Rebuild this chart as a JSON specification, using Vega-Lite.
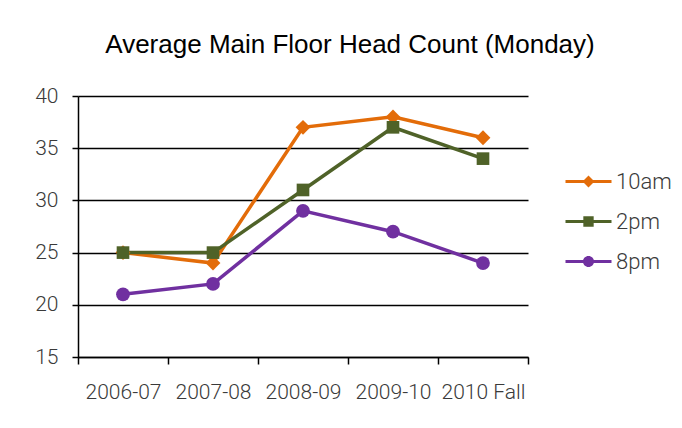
{
  "$schema": "https://vega.github.io/schema/vega-lite/v6.json",
  "autosize": "none",
  "width": 450,
  "height": 261,
  "padding": {"left": 78, "top": 96, "right": 154, "bottom": 71},
  "background": "white",
  "title": {
    "text": "Average Main Floor Head Count (Monday)",
    "font": "Liberation Sans",
    "fontSize": 26,
    "fontWeight": "normal",
    "color": "#000000",
    "anchor": "middle",
    "frame": "group",
    "dx": 47,
    "offset": 27
  },
  "data": {
    "values": [
      {"period": "2006-07", "series": "10am", "count": 25},
      {"period": "2007-08", "series": "10am", "count": 24},
      {"period": "2008-09", "series": "10am", "count": 37},
      {"period": "2009-10", "series": "10am", "count": 38},
      {"period": "2010 Fall", "series": "10am", "count": 36},
      {"period": "2006-07", "series": "2pm", "count": 25},
      {"period": "2007-08", "series": "2pm", "count": 25},
      {"period": "2008-09", "series": "2pm", "count": 31},
      {"period": "2009-10", "series": "2pm", "count": 37},
      {"period": "2010 Fall", "series": "2pm", "count": 34},
      {"period": "2006-07", "series": "8pm", "count": 21},
      {"period": "2007-08", "series": "8pm", "count": 22},
      {"period": "2008-09", "series": "8pm", "count": 29},
      {"period": "2009-10", "series": "8pm", "count": 27},
      {"period": "2010 Fall", "series": "8pm", "count": 24}
    ]
  },
  "encoding": {
    "x": {
      "field": "period",
      "type": "nominal",
      "sort": null,
      "title": null,
      "scale": {"type": "band", "paddingInner": 0, "paddingOuter": 0},
      "axis": {
        "tickBand": "extent",
        "labelAngle": 0,
        "domainColor": "#000000",
        "domainWidth": 1.5,
        "tickColor": "#000000",
        "tickWidth": 1.5,
        "tickSize": 7,
        "labelPadding": 17,
        "labelFont": "Roboto",
        "labelFontWeight": 300,
        "labelFontSize": 21,
        "labelColor": "#3a3a3a",
        "grid": false
      }
    },
    "y": {
      "field": "count",
      "type": "quantitative",
      "title": null,
      "scale": {"domain": [15, 40], "nice": false, "zero": false},
      "axis": {
        "values": [15, 20, 25, 30, 35, 40],
        "grid": true,
        "gridColor": "#000000",
        "gridWidth": 1.5,
        "domainColor": "#000000",
        "domainWidth": 1.5,
        "tickColor": "#000000",
        "tickWidth": 1.5,
        "tickSize": 6,
        "labelPadding": 14,
        "labelFont": "Roboto",
        "labelFontWeight": 300,
        "labelFontSize": 21,
        "labelColor": "#3a3a3a"
      }
    },
    "color": {
      "field": "series",
      "type": "nominal",
      "scale": {"domain": ["10am", "2pm", "8pm"], "range": ["#E36C09", "#4F6228", "#7030A0"]}
    }
  },
  "layer": [
    {
      "mark": {"type": "line", "strokeWidth": 3.5}
    },
    {
      "transform": [{"filter": "datum.series === '10am'"}],
      "mark": {"type": "point", "filled": true, "opacity": 1, "size": 220, "shape": "diamond"}
    },
    {
      "transform": [{"filter": "datum.series === '2pm'"}],
      "mark": {"type": "point", "filled": true, "opacity": 1, "size": 160, "shape": "square"}
    },
    {
      "transform": [{"filter": "datum.series === '8pm'"}],
      "mark": {"type": "point", "filled": true, "opacity": 1, "size": 190, "shape": "circle"}
    },
    {
      "mark": {"type": "point", "filled": true, "size": 0},
      "encoding": {
        "shape": {
          "field": "series",
          "type": "nominal",
          "scale": {
            "domain": ["10am", "2pm", "8pm"],
            "range": [
              "M-2,-0.14H2V0.14H-2ZM0,-0.52L0.52,0L0,0.52L-0.52,0Z",
              "M-2,-0.14H2V0.14H-2ZM-0.45,-0.45H0.45V0.45H-0.45Z",
              "M-2,-0.14H2V0.14H-2ZM-0.48,0A0.48,0.48 0 1,1 0.48,0A0.48,0.48 0 1,1 -0.48,0Z"
            ]
          },
          "legend": {
            "title": null,
            "orient": "none",
            "legendX": 499,
            "legendY": 74,
            "padding": 0,
            "symbolSize": 529,
            "symbolStrokeWidth": 0,
            "symbolOpacity": 1,
            "labelOffset": 16,
            "rowPadding": 17,
            "labelFont": "Roboto",
            "labelFontWeight": 300,
            "labelFontSize": 22,
            "labelColor": "#3a3a3a"
          }
        }
      }
    }
  ],
  "config": {
    "view": {"stroke": null}
  }
}
